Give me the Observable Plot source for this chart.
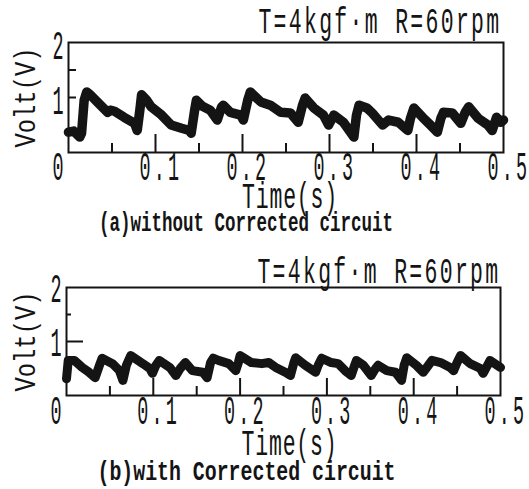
<!DOCTYPE html>
<html><head><meta charset="utf-8">
<script src="https://cdn.jsdelivr.net/npm/d3@7"></script>
<script src="https://cdn.jsdelivr.net/npm/@observablehq/plot@0.6"></script>
<style>
html,body{margin:0;padding:0;background:#fff;}
#wrap{width:529px;height:489px;position:relative;overflow:hidden;background:#fff;}
#wrap svg{display:block;}
</style></head><body><div id="wrap"></div>
<script>
// ---- data ----
const timeA = [0.000,0.006,0.013,0.015,0.018,0.021,0.025,0.033,0.045,0.048,0.053,0.064,0.076,0.079,0.082,0.084,0.090,0.095,0.107,0.118,0.130,0.139,0.141,0.145,0.147,0.154,0.163,0.171,0.176,0.178,0.186,0.198,0.201,0.206,0.209,0.215,0.221,0.232,0.244,0.255,0.264,0.269,0.272,0.282,0.293,0.299,0.305,0.316,0.328,0.331,0.334,0.343,0.349,0.361,0.368,0.379,0.390,0.393,0.397,0.407,0.416,0.424,0.428,0.431,0.441,0.451,0.456,0.460,0.471,0.482,0.487,0.492,0.497,0.500];
const voltA = [0.37,0.39,0.28,0.35,0.95,1.10,1.05,0.92,0.73,0.77,0.75,0.64,0.53,0.40,0.77,1.05,0.95,0.83,0.68,0.50,0.44,0.40,0.35,0.77,0.95,0.84,0.77,0.59,0.83,0.86,0.73,0.68,0.59,0.95,1.10,1.01,0.92,0.86,0.73,0.72,0.55,0.86,0.99,0.81,0.68,0.50,0.68,0.55,0.28,0.68,0.86,0.81,0.72,0.50,0.59,0.55,0.40,0.62,0.81,0.64,0.50,0.37,0.62,0.73,0.72,0.53,0.73,0.83,0.62,0.50,0.40,0.64,0.55,0.59];
const timeB = [0.000,0.002,0.009,0.018,0.026,0.033,0.038,0.041,0.053,0.061,0.065,0.069,0.074,0.088,0.096,0.099,0.103,0.107,0.119,0.126,0.131,0.137,0.145,0.157,0.162,0.166,0.169,0.175,0.187,0.195,0.198,0.200,0.213,0.225,0.233,0.241,0.252,0.258,0.262,0.264,0.275,0.287,0.290,0.294,0.305,0.313,0.321,0.328,0.332,0.334,0.342,0.351,0.356,0.359,0.369,0.379,0.386,0.389,0.392,0.403,0.411,0.417,0.421,0.431,0.442,0.446,0.450,0.454,0.465,0.477,0.480,0.485,0.488,0.500];
const voltB = [0.31,0.65,0.65,0.52,0.43,0.33,0.56,0.69,0.59,0.46,0.28,0.56,0.74,0.59,0.50,0.41,0.56,0.65,0.52,0.37,0.50,0.61,0.46,0.43,0.33,0.61,0.69,0.65,0.59,0.46,0.61,0.74,0.61,0.59,0.61,0.52,0.43,0.37,0.61,0.70,0.56,0.43,0.56,0.69,0.61,0.59,0.46,0.37,0.56,0.65,0.56,0.37,0.50,0.56,0.46,0.43,0.28,0.56,0.70,0.56,0.43,0.56,0.65,0.61,0.52,0.46,0.61,0.74,0.59,0.50,0.41,0.56,0.65,0.52];

const xTickValues = [0, 0.1, 0.2, 0.3, 0.4, 0.5];
const xTickLabels = ["0", "0.1", "0.2", "0.3", "0.4", "0.5"];
const xMajorTicks = [0.1, 0.2, 0.3, 0.4];
const xMinorTicks = [0.05, 0.15, 0.25, 0.35, 0.45];
const yTickValues = [1, 2];
const yTickLabels = ["1", "2"];
const yInnerTicksA = [1, 1.5];
const yInnerTicksB1 = [1];
const yInnerTicksB2 = [1.5];

const titleText = "T=4kgf·m R=60rpm";
const yLabelText = "Volt(V)";
const xLabelText = "Time(s)";
const captionA = "(a)without Corrected circuit";
const captionB = "(b)with Corrected circuit";

const INK = "#141414";

function panel(cfg) {
  const fw = 529 - cfg.ml - cfg.mr, fh = cfg.height - cfg.mt - cfg.mb;
  const series = cfg.time.map((t, i) => ({t, v: cfg.volt[i]}));
  const yRules = cfg.yRules.map(r => Plot.ruleY(r.values, {y: d => d, stroke: INK, strokeWidth: 2, insetRight: fw - r.len}));
  const svg = Plot.plot({
    width: 529, height: cfg.height,
    marginLeft: cfg.ml, marginRight: cfg.mr, marginTop: cfg.mt, marginBottom: cfg.mb,
    x: {domain: [0, 0.5], axis: null},
    y: {domain: [0, 2], axis: null},
    style: {fontFamily: "'Liberation Mono', monospace", background: "transparent", color: INK, overflow: "visible"},
    marks: [
      Plot.ruleX(xMinorTicks, {x: d => d, stroke: INK, strokeWidth: 2, insetTop: fh - cfg.minorLen}),
      Plot.ruleX(xMajorTicks, {x: d => d, stroke: INK, strokeWidth: 2, insetTop: fh - cfg.majorLen}),
      ...yRules,
      Plot.line(series, {x: "t", y: "v", stroke: INK, strokeWidth: cfg.lineW, strokeLinejoin: "round", strokeLinecap: "round"}),
      Plot.frame({stroke: INK, strokeWidth: 2}),
      Plot.text(xTickValues, {x: d => d, text: (d, i) => xTickLabels[i], frameAnchor: "bottom", textAnchor: "start", lineAnchor: "middle", dx: -16, dy: cfg.xLabDy, fontSize: 41, fill: INK}),
      Plot.text(yTickValues, {y: d => d, text: (d, i) => yTickLabels[i], frameAnchor: "left", textAnchor: "start", lineAnchor: "middle", dx: -16, dy: cfg.yLabDy, fontSize: 41, fill: INK}),
      Plot.text([titleText], {text: d => d, frameAnchor: "top-right", textAnchor: "end", lineAnchor: "middle", dx: cfg.titleDx, dy: cfg.titleDy, fontSize: 37, fill: INK}),
      Plot.text([yLabelText], {text: d => d, frameAnchor: "left", rotate: -90, textAnchor: "middle", lineAnchor: "middle", dx: cfg.yTitleDx, dy: 0, fontSize: 29, fill: INK}),
      Plot.text([xLabelText], {text: d => d, frameAnchor: "bottom", textAnchor: "middle", lineAnchor: "middle", dx: cfg.xTitleDx, dy: cfg.xTitleDy, fontSize: 37, fill: INK}),
      Plot.text([cfg.caption], {text: d => d, frameAnchor: "bottom", textAnchor: "middle", lineAnchor: "middle", dx: cfg.capDx, dy: cfg.capDy, fontSize: 28, fontWeight: "bold", fill: INK})
    ]
  });
  // tall, narrow typewriter lettering: condense horizontally, keep the monospace pitch
  const scales  = [0.45, 0.45, 0.58, 0.82, 0.58, cfg.capScale];
  const spacing = [7, 7, 4, 0, 1.5, 0];
  const groups = svg.querySelectorAll('g[aria-label="text"]');
  groups.forEach((g, gi) => {
    const s = scales[gi] ?? 1;
    g.querySelectorAll("text").forEach(el => {
      if (spacing[gi]) el.style.letterSpacing = spacing[gi] + "px";
      const tr = el.getAttribute("transform");
      if (tr) el.setAttribute("transform", tr + ` scale(${s},1)`);
      else {
        const x = +el.getAttribute("x") || 0, y = +el.getAttribute("y") || 0;
        el.removeAttribute("x"); el.removeAttribute("y");
        el.setAttribute("transform", `translate(${x},${y}) scale(${s},1)`);
      }
    });
  });
  return svg;
}

const wrap = document.getElementById("wrap");
wrap.appendChild(panel({
  time: timeA, volt: voltA, caption: captionA,
  height: 245, ml: 68, mr: 26, mt: 42, mb: 93,
  minorLen: 9, majorLen: 18, lineW: 9.5,
  yRules: [{values: yInnerTicksA, len: 8}],
  xLabDy: 14.5, yLabDy: 3, titleDx: -2, titleDy: -21,
  yTitleDx: -43, xTitleDx: 4, xTitleDy: 44,
  capDx: -40, capDy: 70, capScale: 0.625
}));
wrap.appendChild(panel({
  time: timeB, volt: voltB, caption: captionB,
  height: 244, ml: 66, mr: 29, mt: 42, mb: 94,
  minorLen: 9, majorLen: 17, lineW: 9,
  yRules: [{values: yInnerTicksB1, len: 17}, {values: yInnerTicksB2, len: 5}],
  xLabDy: 15, yLabDy: 1, titleDx: 0, titleDy: -16,
  yTitleDx: -41, xTitleDx: 6, xTitleDy: 48,
  capDx: -37, capDy: 76, capScale: 0.71
}));
</script>
</body></html>
